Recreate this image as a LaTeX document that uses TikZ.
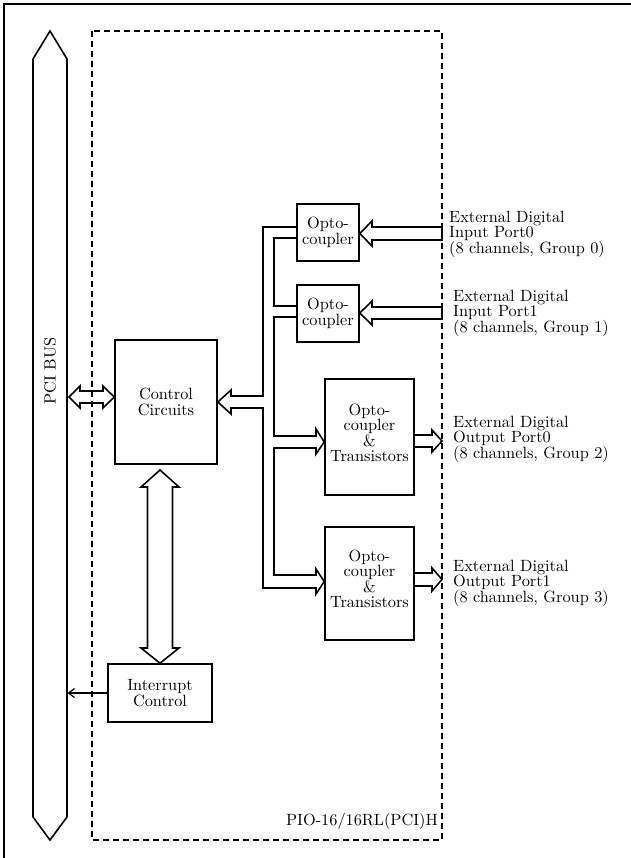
\documentclass[tikz,border=0pt]{standalone}
\usepackage{fontspec}
\setmainfont{lmroman10-regular.otf}
\usetikzlibrary{arrows.meta}
\tikzset{
  every node/.style={font=\fontsize{16.3}{15.5}\selectfont, inner sep=0pt},
  box/.style={draw, line width=1.6pt, align=center},
  lab/.style={align=left, anchor=west},
  wire/.style={line width=1.6pt, line join=miter},
  frame/.style={line width=1.8pt},
  dbox/.style={line width=1.5pt, dash pattern=on 6pt off 4pt},
  thinarrow/.style={line width=1.2pt, -{Straight Barb[length=6pt,width=9pt]}}
}
\begin{document}
\begin{tikzpicture}[x=1pt,y=-1pt]
\useasboundingbox (0,0) rectangle (630,858);
% outer frame (cut at right and bottom)
\draw[frame] (631,4) -- (4,4) -- (4,859);
% PCI bus
\draw[wire] (33,59) -- (50,31) -- (67,59) -- (67,817) -- (50,840) -- (33,817) -- cycle;
\node[rotate=90] (pcibus) at (50,371) {PCI BUS};
% boxes
\node[box, minimum width=102pt, minimum height=124pt] (ctrl) at (166,402) {Control\\Circuits};
\node[box, minimum width=104pt, minimum height=58pt] (intr) at (160,693) {Interrupt\\Control};
\node[box, minimum width=62pt, minimum height=57pt] (opto1) at (328,232.5) {Opto-\\coupler};
\node[box, minimum width=62pt, minimum height=57pt] (opto2) at (328,313.5) {Opto-\\coupler};
\node[box, minimum width=89pt, minimum height=116pt] (ot1) at (369.5,437) {};
\node (ot1t) at (369.5,433) [align=center] {Opto-\\coupler\\\&\\Transistors};
\node[box, minimum width=89pt, minimum height=113pt] (ot2) at (369.5,583.5) {};
\node (ot2t) at (369.5,579) [align=center] {Opto-\\coupler\\\&\\Transistors};
% dashed board outline
\draw[dbox] (92,31) rectangle (442,840);
\node[anchor=east] (board) at (438,821) {PIO-16/16RL(PCI)H};
% bus <-> control
\draw[wire] (69,397) -- (80,386) -- (80,391) -- (103,391) -- (103,386) -- (ctrl.west |- 0,397)
  -- (103,408) -- (103,403) -- (80,403) -- (80,408) -- cycle;
% control <-> interrupt
\draw[wire] (160,470) -- (179,487) -- (172.5,487) -- (172.5,648) -- (179,648) -- (intr.north)
  -- (141,648) -- (147.5,648) -- (147.5,487) -- (141,487) -- cycle;
% interrupt -> bus
\draw[thinarrow] (intr.west) -- (67.5,693);
% internal bus: control <-> opto / transistor stages
\draw[wire] (231,396) -- (263,396) -- (263,227) -- (opto1.west |- 0,227);
\draw[wire] (opto1.west |- 0,238) -- (274,238) -- (274,306) -- (opto2.west |- 0,306);
\draw[wire] (opto2.west |- 0,317) -- (274,317) -- (274,436) -- (316,436)
  -- (316,429) -- (ot1.west |- 0,442) -- (316,454) -- (316,448) -- (274,448)
  -- (274,575) -- (316,575) -- (316,569) -- (ot2.west |- 0,581.5) -- (316,594)
  -- (316,588) -- (263,588) -- (263,408) -- (231,408) -- (231,414)
  -- (ctrl.east |- 0,402) -- (231,390) -- (231,396.8);
% input arrows
\draw[wire] (442,227) -- (372,227) -- (372,221) -- (opto1.east |- 0,233.5) -- (372,246) -- (372,240) -- (442,240) -- cycle;
\draw[wire] (442,307) -- (372,307) -- (372,301) -- (opto2.east |- 0,313) -- (372,325) -- (372,319) -- (442,319) -- cycle;
% output arrows
\draw[wire] (ot1.east |- 0,435) -- (432,435) -- (432,430) -- (442,441) -- (432,452) -- (432,447) -- (ot1.east |- 0,447);
\draw[wire] (ot2.east |- 0,573) -- (432,573) -- (432,568) -- (442,579.5) -- (432,591) -- (432,586) -- (ot2.east |- 0,586);
% labels
\node[lab] (in0) at (449,234) {External Digital\\Input Port0\\(8 channels, Group 0)};
\node[lab] (in1) at (453,313) {External Digital\\Input Port1\\(8 channels, Group 1)};
\node[lab] (out0) at (453,439) {External Digital\\Output Port0\\(8 channels, Group 2)};
\node[lab] (out1) at (453,583) {External Digital\\Output Port1\\(8 channels, Group 3)};
\end{tikzpicture}
\end{document}
